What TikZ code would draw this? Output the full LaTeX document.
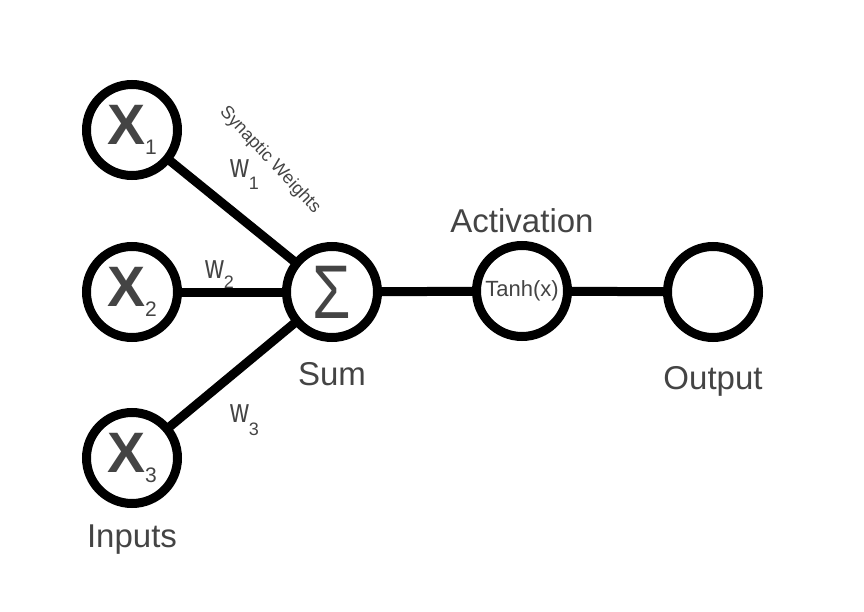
\documentclass[tikz,border=0pt]{standalone}
\usepackage{fontspec}
\setmainfont{Liberation Sans}
\usetikzlibrary{positioning}
\definecolor{texto}{HTML}{444444}
\newcommand{\entrada}[1]{{\fontsize{57}{57}\selectfont\bfseries X}\raisebox{-10pt}{\fontsize{21}{21}\selectfont #1}}
\newcommand{\peso}[2]{\scalebox{1}[1.3]{w}\raisebox{-#2}{\fontsize{18}{18}\selectfont #1}}

\begin{document}
\begin{tikzpicture}[x=1pt, y=-1pt, node distance=82pt,
        neuronio/.style={draw, circle, line width=9pt, minimum size=91pt, inner sep=0pt, outer sep=0pt, text=texto},
        ligacao/.style={line width=9pt},
        rotulo/.style={text=texto, font=\fontsize{33}{33}\selectfont, inner sep=0pt},
        pesos/.style={text=texto, font=\fontsize{26}{26}\selectfont, inner sep=0pt, anchor=base west}]
        \useasboundingbox (0,0) rectangle (864,612);
        % Define os nós
        \node[neuronio] (S) at (332,292) {\scalebox{0.82}[1]{\fontsize{76}{76}\selectfont Σ}};
        \node[neuronio] (X1) at (132,130) {\entrada{1}};
        \node[neuronio] (X2) at (132,292) {\entrada{2}};
        \node[neuronio] (X3) at (132,458) {\entrada{3}};
        \node[neuronio] (T) at (522,291) {\fontsize{22}{22}\selectfont Tanh(x)};
        \node[neuronio] (O) at (713,292) {};
        % Conecta os nós
        \draw[ligacao] (X1) -- (S);
        \draw[ligacao] (X2) -- (S);
        \draw[ligacao] (X3) -- (S);
        \draw[ligacao] (S) -- (T);
        \draw[ligacao] (T) -- (O);
        % Adiciona os pesos
        \node[pesos] (w1) at (230,178) {\peso{1}{12pt}};
        \node[pesos] (w2) at (205,278) {\peso{2}{10pt}};
        \node[pesos] (w3) at (230,422) {\peso{3}{13pt}};
        \node[text=texto, rotate=-47, font=\fontsize{18}{18}\selectfont] (sw) at (270,160) {Synaptic Weights};
        % Adiciona os rótulos
        \node[rotulo, below of=X3] (inputs) {Inputs};
        \node[rotulo, below of=S] (sum) {Sum};
        \node[rotulo, above of=T, yshift=-12pt] (activation) {Activation};
        \node[rotulo, below of=O, yshift=-7pt] (output) {Output};
    \end{tikzpicture}
\end{document}
